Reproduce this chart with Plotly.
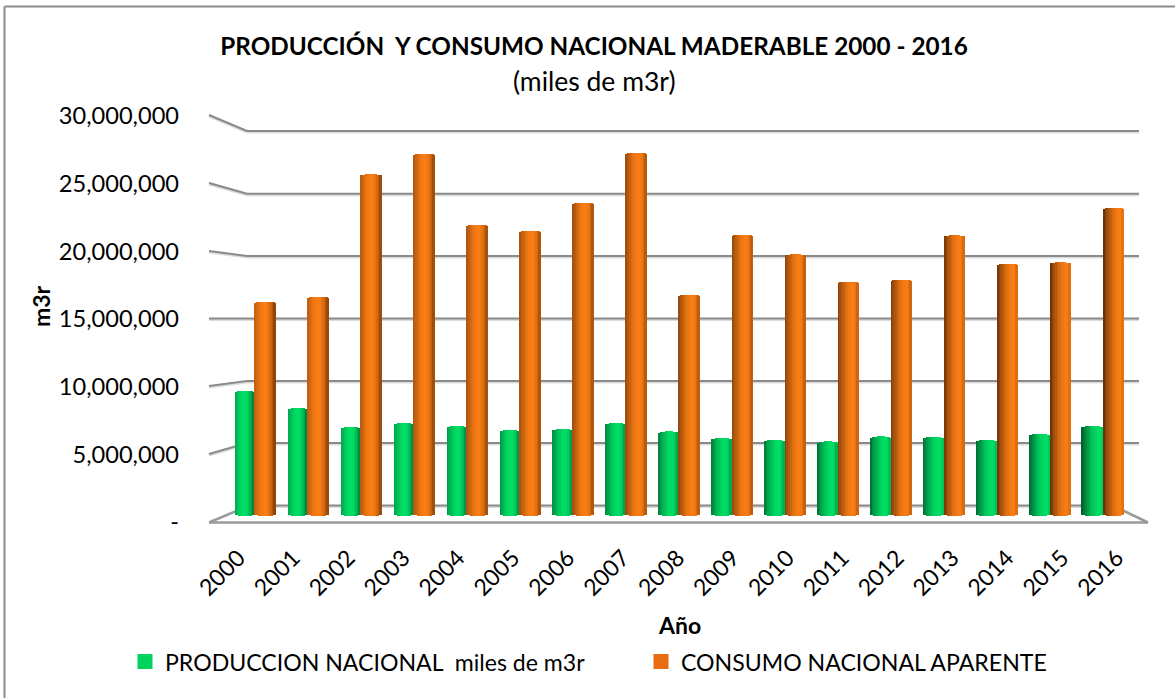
import plotly.graph_objects as go

YEARS = [2000, 2001, 2002, 2003, 2004, 2005, 2006, 2007, 2008, 2009, 2010, 2011, 2012, 2013, 2014, 2015, 2016]
PRODUCCION = [9620000, 8360000, 6950000, 7250000, 7030000, 6730000, 6800000, 7250000, 6620000,
              6140000, 5990000, 5880000, 6250000, 6210000, 5990000, 6430000, 7030000]
CONSUMO = [16200000, 16570000, 25630000, 27140000, 21890000, 21450000, 23520000, 27220000, 16720000,
           21150000, 19710000, 17680000, 17830000, 21120000, 19010000, 19120000, 23150000]
Y_TICKS = [0, 5000000, 10000000, 15000000, 20000000, 25000000, 30000000]
Y_LABELS = ["-", "5,000,000", "10,000,000", "15,000,000", "20,000,000", "25,000,000", "30,000,000"]

W, H = 1175, 698
L, R, T, B = 209, 1139, 115, 521
FONT = "Lato"
N = 12
PX_VAL = 30000000 / (B - T)


def px(x):
    return (x - L) / (R - L)


def py(y):
    return (B - y) / (B - T)


def line(x0, y0, x1, y1, color="#8a8a8a", width=2):
    return dict(type="line", xref="paper", yref="paper", x0=px(x0), y0=py(y0), x1=px(x1), y1=py(y1),
                line=dict(color=color, width=width), layer="below")


shapes = [line(4.5, 6.5, 1175, 6.5, "#8c8c8c", 2), line(4.5, 6.5, 4.5, 698, "#8c8c8c", 2)]
back = [505.5, 443, 381, 318.5, 256, 193.7, 131]
front = [521.5, 454, 386, 318.5, 251, 183, 115]
for by, fy in zip(back, front):
    for off, c, w in ((1.5, "#dcdcdc", 2), (0, "#8a8a8a", 2)):
        if by != back[0]:
            shapes.append(line(209, fy + off, 247, by + off, c, w))
        shapes.append(line(247, by + off, 1139 if by != back[0] else 1122, by + off, c, w))
shapes.append(line(209, 522.5, 247, 506.5, "#9a9a9a", 2.5))
shapes.append(line(209, 522.5, 1148, 522.5, "#9a9a9a", 2.5))
shapes.append(line(1122, 510, 1148, 522.5, "#9a9a9a", 2.5))


def mix(a, b, t):
    t = max(0.0, min(1.0, t))
    return "rgb(%d,%d,%d)" % tuple(round(a[j] + (b[j] - a[j]) * t) for j in range(3))


def add_series(fig, values, name, bright, dark, swatch, left, spacing_l, right0, spacing_r):
    n = len(values)
    lefts = [left + spacing_l * i for i in range(n)]
    rights = [right0 + spacing_r * i for i in range(n)]
    centers = [254 + 53 * i for i in range(n)]
    fig.add_trace(go.Scatter(x=YEARS, y=[None] * n, name=name, mode="markers",
                             marker=dict(symbol="square", size=15, color=swatch), hoverinfo="skip"))
    for k in range(N):
        u = -1 + (2 * k + 1) / N
        offs, widths, bases, ys, colors = [], [], [], [], []
        for i in range(n):
            w = rights[i] - lefts[i]
            sx = lefts[i] + w * k / N
            offs.append((sx - centers[i]) / 53)
            widths.append((w / N + (0.8 if k < N - 1 else 0)) / 53)
            arc = (1 - u * u) ** 0.5
            bottom_px = 513.5 + 3 * arc
            base = (B - bottom_px) * PX_VAL
            top = values[i] - (1 - arc) * 2.0 * PX_VAL
            bases.append(base)
            ys.append(top - base)
            h = 0.7 * i / 16
            if u < h:
                shade = ((h - u) / (1 + h)) ** 1.8 * (0.35 + 0.55 * i / 16)
            else:
                shade = ((u - h) / (1 - h)) ** 1.8 * (0.7 - 0.5 * i / 16)
            colors.append(mix(bright, dark, shade))
        fig.add_trace(go.Bar(x=YEARS, y=ys, base=bases, offset=offs, width=widths,
                             marker=dict(color=colors, line=dict(width=0)),
                             showlegend=False, hoverinfo="skip"))


fig = go.Figure()
add_series(fig, PRODUCCION, "PRODUCCION NACIONAL  miles de m3r", (0, 222, 100), (0, 70, 36), "#00D25F",
           235, 52.9, 254, 53.06)
add_series(fig, CONSUMO, "CONSUMO NACIONAL APARENTE", (250, 125, 20), (75, 35, 5), "#E96C10",
           254, 53.06, 275.5, 53.0)
# Invisible trace that carries the outer year axis (labels sit on a wider spread than the bars).
fig.add_trace(go.Scatter(x=YEARS, y=[None] * len(YEARS), xaxis="x2", showlegend=False, hoverinfo="skip"))

x0_main = 2000 + (L - 254) / 53
x1_main = 2000 + (R - 254) / 53
x0_lab = 2000 + (L - 238.5) / 54.9
x1_lab = 2000 + (R - 238.5) / 54.9

fig.update_layout(
    width=W, height=H, autosize=False,
    margin=dict(l=L, r=W - R, t=T, b=H - B, pad=0),
    paper_bgcolor="white", plot_bgcolor="rgba(0,0,0,0)",
    barmode="overlay", bargap=0,
    font=dict(family=FONT, color="black", size=22),
    shapes=shapes,
    xaxis=dict(range=[x0_main, x1_main], showticklabels=False, showgrid=False, zeroline=False,
               showline=False, ticks=""),
    xaxis2=dict(range=[x0_lab, x1_lab], overlaying="x", anchor="y", side="bottom",
                tickmode="array", tickvals=YEARS, ticktext=[str(y) for y in YEARS],
                tickangle=-45, tickfont=dict(size=23, family=FONT), showgrid=False, zeroline=False,
                showline=False, ticks="", ticklabelstandoff=18),
    yaxis=dict(range=[0, 30000000], tickmode="array", tickvals=Y_TICKS, ticktext=Y_LABELS,
               showgrid=False, zeroline=False, showline=False, ticks="", ticklabelstandoff=29,
               ticklabelshift=1, tickfont=dict(size=23.6, family=FONT)),
    title=dict(text="<b>PRODUCCIÓN  Y CONSUMO NACIONAL MADERABLE 2000 - 2016</b>", x=594 / W, xanchor="center",
               y=1 - 46 / H, yanchor="middle", font=dict(size=24.3, family=FONT)),
    annotations=[
        dict(text="(miles de m3r)", xref="paper", yref="paper", x=px(594), y=py(81), showarrow=False,
             xanchor="center", yanchor="middle", font=dict(size=26.5, family=FONT)),
        dict(text="<b>Año</b>", xref="paper", yref="paper", x=px(679), y=py(625), showarrow=False,
             xanchor="center", yanchor="middle", font=dict(size=23, family=FONT)),
        dict(text="<b>m3r</b>", xref="paper", yref="paper", x=px(41), y=py(306), showarrow=False, textangle=-90,
             xanchor="center", yanchor="middle", font=dict(size=23, family=FONT)),
    ],
    legend=dict(orientation="h", x=px(125), y=py(662), xanchor="left", yanchor="middle",
                font=dict(size=23.1, family=FONT), entrywidth=471, entrywidthmode="pixels",
                bgcolor="rgba(0,0,0,0)", traceorder="normal", itemclick=False, itemdoubleclick=False),
)
fig.write_html("out.html", config=dict(displayModeBar=False), post_script="document.body.style.margin='0';")
